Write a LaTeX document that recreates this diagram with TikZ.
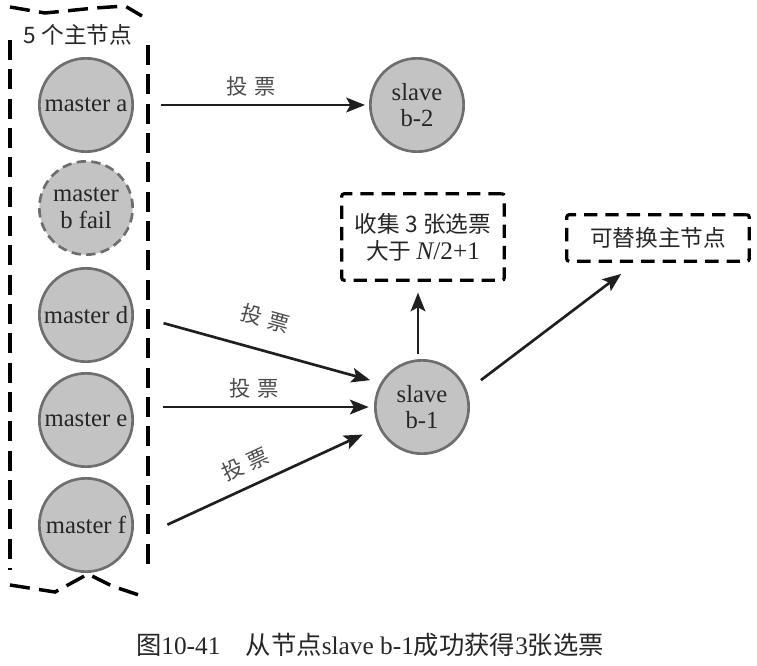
\documentclass[tikz,border=0pt]{standalone}
\usepackage{fontspec}
\setmainfont{Liberation Serif}
\newfontfamily\cjk{Noto Sans CJK SC}
\usetikzlibrary{arrows.meta}
\definecolor{nodefill}{HTML}{C3C3C3}
\definecolor{nodeline}{HTML}{6E6E6E}
\definecolor{inktext}{HTML}{262626}
\newcommand{\ballot}{投\hspace{5pt}票}

\begin{document}
\begin{tikzpicture}[
  x=0.75pt, y=-0.75pt,
  every node/.style={text=inktext},
  mnode/.style={circle, draw=nodeline, line width=2pt, fill=nodefill,
              minimum size=70pt, inner sep=0pt, align=center,
              font=\rmfamily\fontsize{18.5}{20}\selectfont},
  failnode/.style={mnode, dash pattern=on 7pt off 4pt},
  notebox/.style={draw=black, line width=2.4pt, rounded corners=2pt,
              dash pattern=on 10pt off 6pt, align=center,
              font=\cjk\fontsize{17}{20}\selectfont},
  arr/.style={-{Stealth[length=14pt,width=11pt,inset=3pt]},
              line width=2pt, color=black!88},
  vote/.style={font=\cjk\fontsize{16}{16}\selectfont, text=black!70},
  rim/.style={line width=2.6pt, dash pattern=on 15pt off 7pt}
]
\useasboundingbox (0,0) rectangle (757,665);

% group of masters
\draw[rim] (10,40) -- (10,570);
\draw[rim] (148,45) -- (148,570);
\draw[rim] (10,7) -- (45,13) -- (95,8) -- (125,6) -- (142,16);
\draw[rim] (10,585) -- (55,592) -- (88,574) -- (112,586) -- (145,597);
\node[font=\cjk\fontsize{17}{17}\selectfont] (title) at (78,35) {5 个主节点};

\node[mnode]    (ma) at (86,105) {master a};
\node[failnode] (mb) at (86,208) {master\\b fail};
\node[mnode]    (md) at (86,315) {master d};
\node[mnode]    (me) at (86,420) {master e};
\node[mnode]    (mf) at (86,525) {master f};

\node[mnode] (sb2) at (417,105) {slave\\b-2};
\node[mnode] (sb1) at (422,407) {slave\\b-1};

\node[notebox, minimum width=122pt, minimum height=65pt] (tally) at (423,237)
  {收集 3 张选票\\大于 {\rmfamily\fontsize{19}{20}\selectfont\itshape N}{\rmfamily\fontsize{19}{20}\selectfont /2+1}};
\node[notebox, minimum width=137pt, minimum height=35pt] (swap) at (658,238)
  {可替换主节点};

% votes
\draw[arr, shorten <=20pt, shorten >=3pt] (ma.east) --
  node[vote, above=2pt] {\ballot} (sb2.west);
\draw[arr, shorten <=23pt, shorten >=8pt] (md.east) --
  node[vote, sloped, above=12pt] {\ballot} (sb1.150);
\draw[arr, shorten <=22pt, shorten >=4pt] (me.east |- sb1.west) --
  node[vote, above=2pt] {\ballot} (sb1.west);
\draw[arr, shorten <=30pt, shorten >=13pt] (mf.-20) --
  node[vote, sloped, above=5pt] {\ballot} (sb1.205);

\draw[arr, shorten <=4pt, shorten >=8pt] ([xshift=-3pt]sb1.north) -- ([xshift=-3pt]sb1.north |- tally.south);
\draw[arr, shorten <=13pt, shorten >=7pt] (sb1.20) -- ([xshift=-22pt,yshift=-4pt]swap.south);

\node[font=\fontsize{19}{22}\selectfont] (caption) at (370,645)
  {{\cjk 图}10-41\quad{\cjk 从节点}slave b-1{\cjk 成功获得}3{\cjk 张选票}};
\end{tikzpicture}
\end{document}
